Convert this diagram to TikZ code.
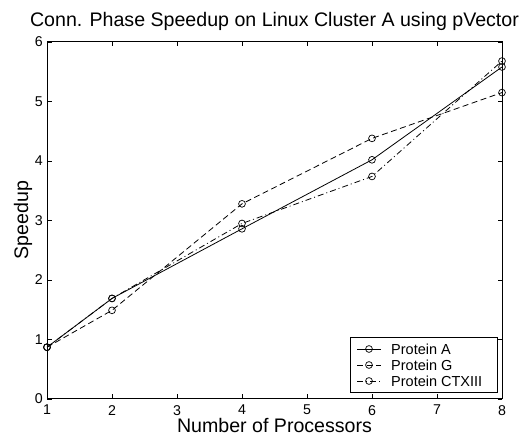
\documentclass[tikz,border=0pt]{standalone}
\usepackage{fontspec}
\setmainfont{Liberation Sans}
\begin{document}
\begin{tikzpicture}[x=1pt,y=1pt,
  mk/.style={circle,draw,inner sep=0pt,minimum size=6.8pt,line width=0.7pt},
  lA/.style={line width=0.8pt},
  lG/.style={line width=0.8pt,dash pattern=on 6pt off 3.5pt},
  lC/.style={line width=0.8pt,dash pattern=on 6pt off 3pt on 1pt off 3pt},
  ax/.style={line width=1pt},
  tk/.style={line width=0.8pt},
  ticklab/.style={font=\fontsize{14.2}{16}\selectfont,inner sep=0pt},
  biglab/.style={font=\fontsize{19.6}{22}\selectfont,inner sep=0pt},
  leglab/.style={font=\fontsize{14.5}{16}\selectfont,inner sep=0pt,anchor=west}]
\useasboundingbox (0,0) rectangle (531,435);
\begin{scope}[shift={(-18pt,36pt)},x=65pt,y=59.5pt]
  % axes box
  \coordinate (bl) at (1,0);
  \coordinate (tr) at (8,6);
  \draw[ax] (bl) rectangle (tr);
  % x ticks
  \foreach \i in {1,...,8}{
    \draw[tk] (\i,0) -- ++(0,4.5pt);
    \draw[tk] (\i,6) -- ++(0,-4.5pt);
    \node[ticklab,anchor=north] (xt\i) at ([yshift=-6pt]\i,0) {\i};
  }
  % y ticks
  \foreach \j in {0,...,6}{
    \draw[tk] (1,\j) -- ++(4.5pt,0);
    \draw[tk] (8,\j) -- ++(-4.5pt,0);
    \node[ticklab,anchor=east] (yt\j) at ([xshift=-4pt]1,\j) {\j};
  }
  % Protein A
  \node[mk] (a1) at (1,0.87) {};
  \node[mk] (a2) at (2,1.69) {};
  \node[mk] (a4) at (4,2.86) {};
  \node[mk] (a6) at (6,4.02) {};
  \node[mk] (a8) at (8,5.58) {};
  \draw[lA] (a1.center) -- (a2.center) -- (a4.center) -- (a6.center) -- (a8.center);
  % Protein G
  \node[mk] (g1) at (1,0.87) {};
  \node[mk] (g2) at (2,1.49) {};
  \node[mk] (g4) at (4,3.28) {};
  \node[mk] (g6) at (6,4.38) {};
  \node[mk] (g8) at (8,5.15) {};
  \draw[lG] (g1.center) -- (g2.center) -- (g4.center) -- (g6.center) -- (g8.center);
  % Protein CTXIII
  \node[mk] (c1) at (1,0.87) {};
  \node[mk] (c2) at (2,1.69) {};
  \node[mk] (c4) at (4,2.95) {};
  \node[mk] (c6) at (6,3.74) {};
  \node[mk] (c8) at (8,5.68) {};
  \draw[lC] (c1.center) -- (c2.center) -- (c4.center) -- (c6.center) -- (c8.center);
\end{scope}
% labels
\node[biglab,anchor=base] (title) at (274.5,408) {Conn. Phase Speedup on Linux Cluster A using pVector};
\node[biglab,anchor=base] (xlab) at (274.5,2.5) {Number of Processors};
\node[biglab,anchor=base,rotate=90] (ylab) at (28,215) {Speedup};
% legend
\node[draw,fill=white,line width=0.8pt,minimum width=147pt,minimum height=55pt,inner sep=0pt,anchor=south west] (leg) at (350,42) {};
\coordinate (la0) at (357,86); \coordinate (la1) at (381,86);
\coordinate (lg0) at (357,70); \coordinate (lg1) at (381,70);
\coordinate (lc0) at (357,54); \coordinate (lc1) at (381,54);
\draw[lA] (la0) -- (la1);
\draw[lG] (lg0) -- (lg1);
\draw[lC] (lc0) -- (lc1);
\node[mk] (lma) at (369,86) {};
\node[mk] (lmg) at (369,70) {};
\node[mk] (lmc) at (369,54) {};
\node[leglab] (ta) at (391,86) {Protein A};
\node[leglab] (tg) at (391,70) {Protein G};
\node[leglab] (tc) at (391,54) {Protein CTXIII};
\end{tikzpicture}
\end{document}
